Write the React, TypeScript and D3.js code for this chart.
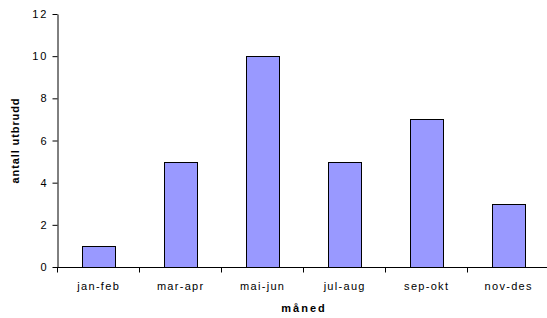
import { useEffect, useRef } from "react";
import * as d3 from "d3";

const categories = ["jan-feb", "mar-apr", "mai-jun", "jul-aug", "sep-okt", "nov-des"];
const values = [1, 5, 10, 5, 7, 3];
const yTicks = [0, 2, 4, 6, 8, 10, 12];

const width = 547;
const height = 318;

export default function App() {
  const svgRef = useRef<SVGSVGElement>(null);

  useEffect(() => {
    if (!svgRef.current) return;
    const svg = d3.select(svgRef.current);
    svg.selectAll("*").remove();

    const margin = { top: 14, right: 0, bottom: 51, left: 57 };
    const innerWidth = 492;
    const innerHeight = height - margin.top - margin.bottom;

    const x = d3.scaleBand().domain(categories).range([0, innerWidth]).paddingInner(0.6).paddingOuter(0.3);
    const xTicks = d3.scaleBand().domain(categories).range([0, innerWidth]);
    const y = d3.scaleLinear().domain([0, 12]).range([innerHeight, 0]);

    const g = svg.append("g").attr("transform", `translate(${margin.left},${margin.top})`);
    const font = "'Liberation Sans', Arial, sans-serif";

    // Bars
    g.selectAll("rect.bar")
      .data(values)
      .join("rect")
      .attr("class", "bar")
      .attr("x", (_, i) => Math.round(x(categories[i])!) + 0.5)
      .attr("y", (d) => Math.round(y(d)) + 0.5)
      .attr("width", Math.round(x.bandwidth()))
      .attr("height", (d) => Math.round(innerHeight - y(d)))
      .attr("fill", "#9999ff")
      .attr("stroke", "#000")
      .attr("stroke-width", 1);

    // Y axis
    g.append("g")
      .attr("transform", "translate(0.5,0)")
      .call(d3.axisLeft(y).tickValues(yTicks).tickSize(5).tickSizeOuter(0).tickFormat(d3.format("d")))
      .call((a) => a.select(".domain").attr("stroke", "#000"))
      .call((a) => a.selectAll(".tick line").attr("stroke", "#000"))
      .call((a) =>
        a
          .selectAll(".tick text")
          .attr("font-size", 11)
          .attr("font-family", font)
          .attr("letter-spacing", 2)
          .attr("fill", "#000")
          .attr("x", -9)
      );

    // X axis
    const xa = g.append("g").attr("transform", `translate(0,${innerHeight + 0.5})`);
    xa.append("line").attr("x1", 0).attr("x2", innerWidth).attr("stroke", "#000");
    const tickPos = [...categories.map((c) => xTicks(c)!), innerWidth];
    xa.selectAll("line.tk")
      .data(tickPos)
      .join("line")
      .attr("class", "tk")
      .attr("x1", (d) => Math.round(d) + 0.5)
      .attr("x2", (d) => Math.round(d) + 0.5)
      .attr("y1", 0)
      .attr("y2", 5)
      .attr("stroke", "#000");
    xa.selectAll("text")
      .data(categories)
      .join("text")
      .attr("x", (d) => xTicks(d)! + xTicks.bandwidth() / 2 + 0.7)
      .attr("y", 22)
      .attr("text-anchor", "middle")
      .attr("font-size", 11)
      .attr("letter-spacing", 1.3)
      .attr("font-family", font)
      .attr("fill", "#000")
      .text((d) => d);

    // Axis titles
    g.append("text")
      .attr("x", innerWidth / 2 + 1)
      .attr("y", innerHeight + 45)
      .attr("text-anchor", "middle")
      .attr("font-size", 11)
      .attr("font-weight", "bold")
      .attr("letter-spacing", 2)
      .attr("font-family", font)
      .text("måned");

    g.append("text")
      .attr("transform", "rotate(-90)")
      .attr("x", -innerHeight / 2)
      .attr("y", -38)
      .attr("text-anchor", "middle")
      .attr("font-size", 11)
      .attr("font-weight", "bold")
      .attr("letter-spacing", 0.9)
      .attr("font-family", font)
      .text("antall utbrudd");
  }, []);

  return (
    <svg
      ref={svgRef}
      width={width}
      height={height}
      style={{ position: "absolute", left: 0, top: 0, background: "#fff" }}
    />
  );
}
